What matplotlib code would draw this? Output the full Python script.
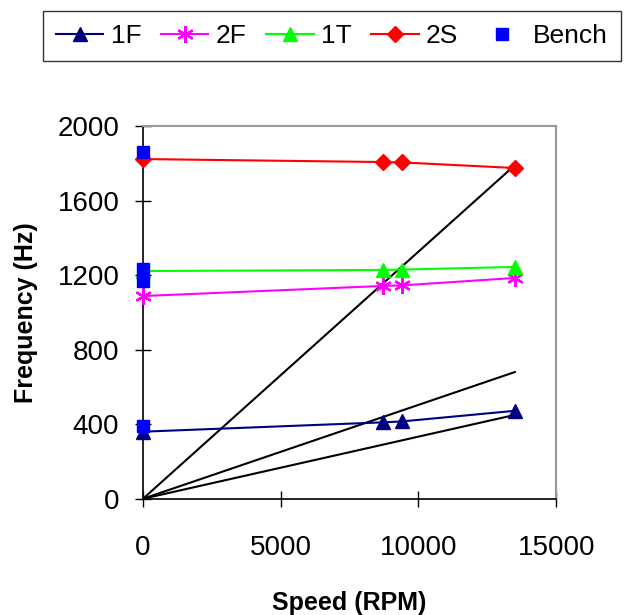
#!/usr/bin/env python3

import numpy as np
from matplotlib import pyplot as plt

plt.rcParams['font.family'] = ['Liberation Sans', 'DejaVu Sans']

# rotor speeds (RPM) and measured frequencies (Hz)
speed = [0, 8700, 9400, 13500]
f_1F = [360, 410, 415, 472]
f_2F = [1088, 1142, 1145, 1185]
f_1T = [1222, 1228, 1230, 1244]
f_2S = [1823, 1807, 1805, 1775]

bench_speed = [0, 0, 0, 0]
bench_freq = [1860, 1232, 1170, 388]

# excitation lines (start / end points)
excite_speed = [0, 13500]
excite_ends = [450, 680, 1790]

asterisk = (6, 2, 0)


def main():
    fig = plt.figure(figsize=(6.27, 6.15), dpi=100)
    ax = fig.add_axes([0.228, 0.189, 0.659, 0.606])

    for end in excite_ends:
        ax.plot(excite_speed, [0, end], color='black', lw=1.5, zorder=2)

    kw = dict(lw=1.5, clip_on=False, zorder=3)
    ax.plot(speed, f_1F, color='#000080', marker='^', ms=10, label='1F', **kw)
    ax.plot(speed, f_2F, color='#FF00FF', marker=asterisk, ms=12, mew=1.6, label='2F', **kw)
    ax.plot(speed, f_1T, color='#00FF00', marker='^', ms=10, label='1T', **kw)
    ax.plot(speed, f_2S, color='#FF0000', marker='D', ms=8, label='2S', **kw)
    ax.plot(bench_speed, bench_freq, color='#0000FF', marker='s', ms=9, ls='none',
            label='Bench', clip_on=False, zorder=4)

    ax.set_xlim(0, 15000)
    ax.set_ylim(0, 2000)
    ax.set_xticks([0, 5000, 10000, 15000])
    ax.set_yticks([0, 400, 800, 1200, 1600, 2000])
    ax.tick_params(direction='inout', length=12, width=1, labelsize=20)
    ax.tick_params(axis='y', pad=11)
    ax.tick_params(axis='x', pad=20)
    for s in ['top', 'right']:
        ax.spines[s].set_color('#999999')
        ax.spines[s].set_linewidth(1.5)
    for s in ['left', 'bottom']:
        ax.spines[s].set_linewidth(1.2)

    ax.set_xlabel('Speed (RPM)', fontsize=18, fontweight='bold', labelpad=22)
    ax.set_ylabel('Frequency (Hz)', fontsize=18, fontweight='bold', labelpad=14)

    handles, labels = ax.get_legend_handles_labels()
    leg = fig.legend(handles, labels, loc='center', bbox_to_anchor=(0.529, 0.9415),
                     ncol=5, fontsize=19, frameon=True, fancybox=False,
                     edgecolor='black', handlelength=1.8, handletextpad=0.27,
                     columnspacing=0.75, borderpad=0.5)
    leg.get_frame().set_linewidth(1.0)

    plt.savefig("out.png", dpi=100)


if __name__ == '__main__':
    main()
